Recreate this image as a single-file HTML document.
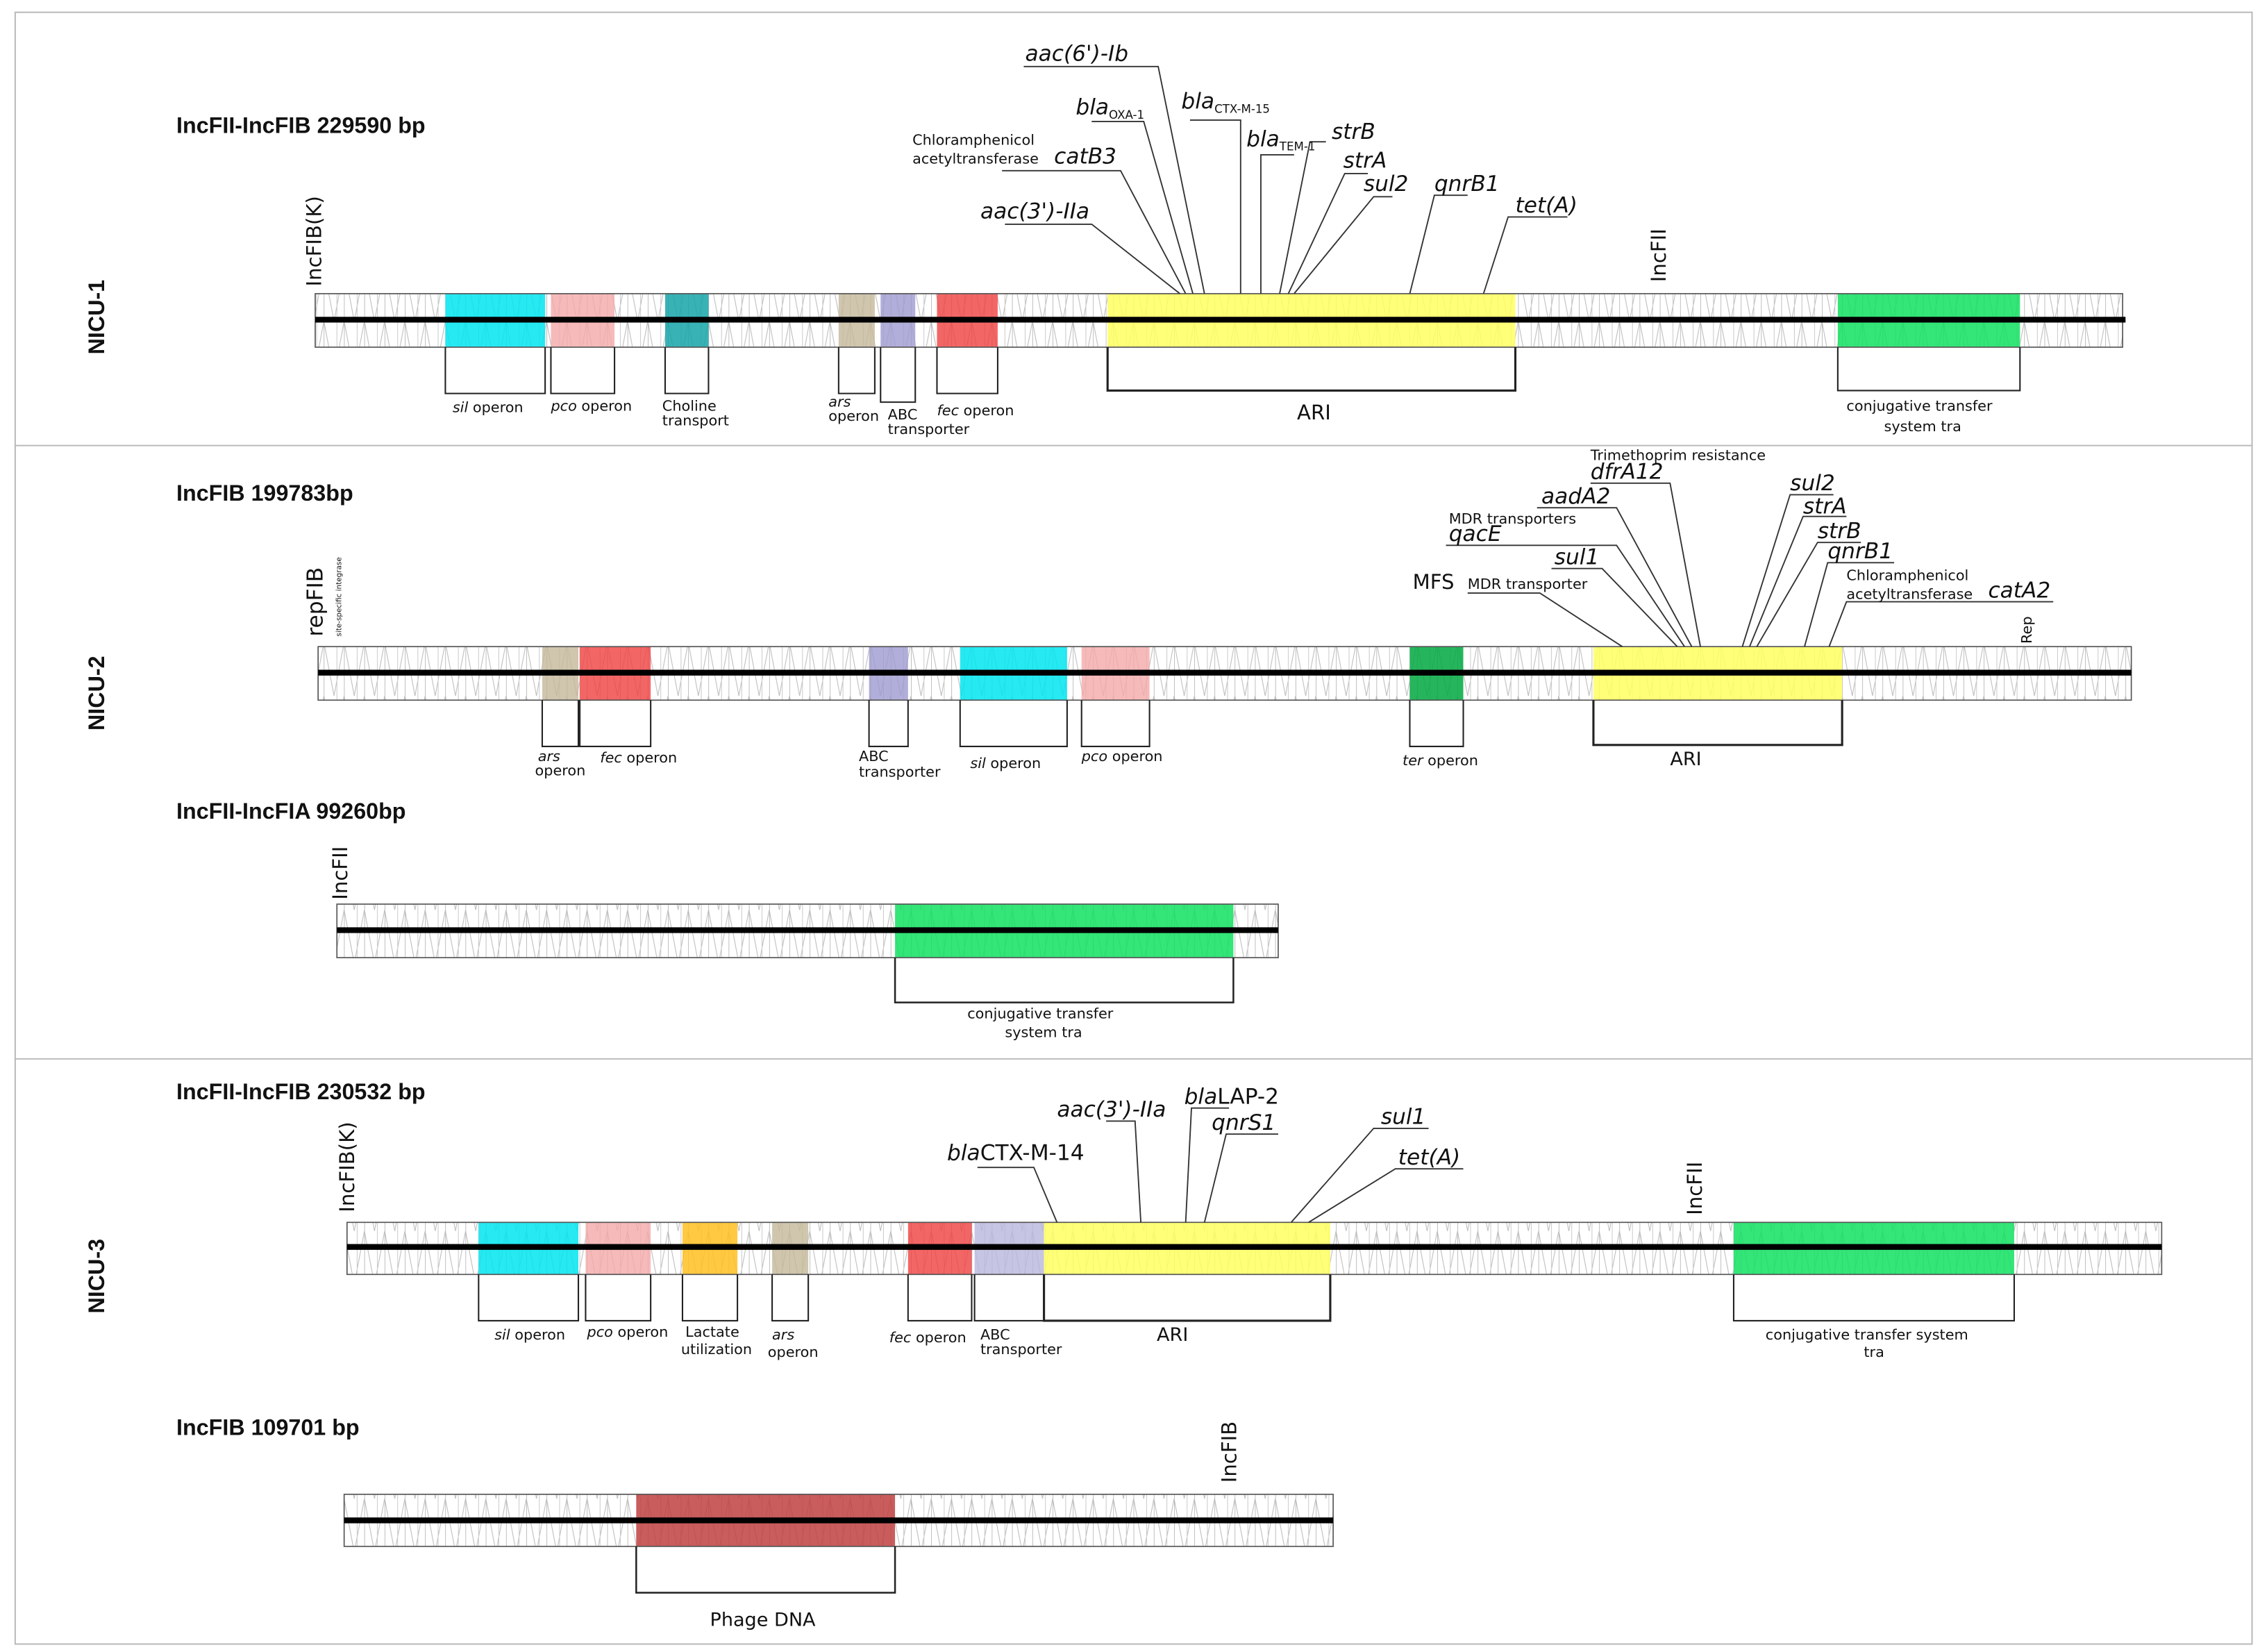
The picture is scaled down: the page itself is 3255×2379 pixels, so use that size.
<!DOCTYPE html>
<html><head><meta charset="utf-8"><style>
html,body{margin:0;padding:0;background:#fff;}
svg{display:block;}
text{font-family:"DejaVu Sans","Liberation Sans",sans-serif;fill:#111;}
.g{font-style:italic;font-size:15px;}
.s{font-size:10px;}
.b{font-weight:bold;font-family:"Liberation Sans",sans-serif;font-size:15.5px;}
</style></head><body>
<svg width="3255" height="2379" viewBox="0 0 1563 1142" preserveAspectRatio="none" xmlns="http://www.w3.org/2000/svg">
<defs>
<pattern id="h" width="14" height="37" patternUnits="userSpaceOnUse">
<line x1="0" y1="0" x2="0" y2="37" stroke="#999" stroke-width="0.6"/>
<line x1="0" y1="0" x2="7" y2="37" stroke="#bbb" stroke-width="0.5"/>
<line x1="14" y1="0" x2="7" y2="37" stroke="#bbb" stroke-width="0.5"/>
<line x1="9" y1="0" x2="9" y2="37" stroke="#ccc" stroke-width="0.5"/>
</pattern>
</defs>
<rect x="0" y="0" width="1563" height="1142" fill="#fff"/>
<rect x="10.5" y="8.5" width="1547" height="1128" fill="none" stroke="#bbb" stroke-width="1"/>
<line x1="10" y1="308" x2="1558" y2="308" stroke="#bbb"/>
<line x1="10" y1="732" x2="1558" y2="732" stroke="#bbb"/>

<text class="b" transform="translate(72,245) rotate(-90)" font-size="17">NICU-1</text>
<text class="b" transform="translate(72,505) rotate(-90)" font-size="17">NICU-2</text>
<text class="b" transform="translate(72,908) rotate(-90)" font-size="17">NICU-3</text>

<text class="b" x="122" y="92">IncFII-IncFIB  229590 bp</text>
<text class="b" x="122" y="346">IncFIB  199783bp</text>
<text class="b" x="122" y="566">IncFII-IncFIA 99260bp</text>
<text class="b" x="122" y="760">IncFII-IncFIB 230532 bp</text>
<text class="b" x="122" y="992">IncFIB 109701 bp</text>

<!-- Plasmid 1 -->
<g stroke="none">
<rect x="218" y="203" width="1250" height="37" fill="url(#h)"/>
<rect x="308" y="203" width="69" height="37" fill="#00e5f0" opacity="0.85"/>
<rect x="381" y="203" width="44" height="37" fill="#f4a9a9" opacity="0.8"/>
<rect x="460" y="203" width="30" height="37" fill="#15a5a8" opacity="0.85"/>
<rect x="580" y="203" width="25" height="37" fill="#c4b89a" opacity="0.8"/>
<rect x="609" y="203" width="24" height="37" fill="#9d9ad0" opacity="0.8"/>
<rect x="648" y="203" width="42" height="37" fill="#f04040" opacity="0.8"/>
<rect x="766" y="203" width="282" height="37" fill="#ffff60" opacity="0.85"/>
<rect x="1271" y="203" width="126" height="37" fill="#10e060" opacity="0.85"/>
</g>
<rect x="218" y="203" width="1250" height="37" fill="none" stroke="#555" stroke-width="0.8"/>
<line x1="218" y1="221" x2="1470" y2="221" stroke="#000" stroke-width="4"/>
<g fill="none" stroke="#222" stroke-width="1">
<polyline points="308,240 308,272 377,272 377,240"/>
<polyline points="381,240 381,272 425,272 425,240"/>
<polyline points="460,240 460,272 490,272 490,240"/>
<polyline points="580,240 580,272 605,272 605,240"/>
<polyline points="609,240 609,278 633,278 633,240"/>
<polyline points="648,240 648,272 690,272 690,240"/>
<polyline points="766,240 766,270 1048,270 1048,240" stroke-width="1.5"/>
<polyline points="1271,240 1271,270 1397,270 1397,240"/>
</g>
<text class="s" x="313" y="285"><tspan font-style="italic">sil</tspan> operon</text>
<text class="s" x="381" y="284"><tspan font-style="italic">pco</tspan> operon</text>
<text class="s" x="458" y="284">Choline</text><text class="s" x="458" y="294">transport</text>
<text class="s" x="573" y="281" font-style="italic">ars</text><text class="s" x="573" y="291">operon</text>
<text class="s" x="614" y="290">ABC</text><text class="s" x="614" y="300">transporter</text>
<text class="s" x="648" y="287"><tspan font-style="italic">fec</tspan> operon</text>
<text x="897" y="290" font-size="14">ARI</text>
<text class="s" x="1277" y="284">conjugative transfer</text><text class="s" x="1303" y="298">system tra</text>
<text font-size="14" transform="translate(222,198) rotate(-90)">IncFIB(K)</text>
<text font-size="14" transform="translate(1152,195) rotate(-90)">IncFII</text>

<g fill="none" stroke="#333" stroke-width="0.9">
<polyline points="708,46 801,46 833,203"/>
<polyline points="755,84 791,84 825,203"/>
<polyline points="823,83 858,83 858,203"/>
<polyline points="872,203 872,107 895,107"/>
<polyline points="917,98 906,98 885,203"/>
<polyline points="946,120 930,120 891,203"/>
<polyline points="963,136 950,136 895,203"/>
<polyline points="1015,135 992,135 975,203"/>
<polyline points="1084,150 1043,150 1026,203"/>
<polyline points="693,118 775,118 820,203"/>
<polyline points="695,155 755,155 816,203"/>
</g>
<text class="g" x="709" y="42">aac(6')-Ib</text>
<text class="g" x="744" y="79">bla<tspan font-size="8" font-style="normal" dy="3">OXA-1</tspan></text>
<text class="g" x="817" y="75">bla<tspan font-size="8" font-style="normal" dy="3">CTX-M-15</tspan></text>
<text class="g" x="862" y="101">bla<tspan font-size="8" font-style="normal" dy="3">TEM-1</tspan></text>
<text class="g" x="921" y="96">strB</text>
<text class="g" x="929" y="116">strA</text>
<text class="g" x="943" y="132">sul2</text>
<text class="g" x="992" y="132">qnrB1</text>
<text class="g" x="1048" y="147">tet(A)</text>
<text class="s" x="631" y="100">Chloramphenicol</text>
<text class="s" x="631" y="113">acetyltransferase</text>
<text class="g" x="729" y="113">catB3</text>
<text class="g" x="678" y="151">aac(3')-IIa</text>

<!-- Plasmid 2 -->
<rect x="220" y="447" width="1254" height="37" fill="url(#h)"/>
<rect x="375" y="447" width="25" height="37" fill="#c4b89a" opacity="0.8"/>
<rect x="401" y="447" width="49" height="37" fill="#f04040" opacity="0.8"/>
<rect x="601" y="447" width="27" height="37" fill="#9d9ad0" opacity="0.8"/>
<rect x="664" y="447" width="74" height="37" fill="#00e5f0" opacity="0.85"/>
<rect x="748" y="447" width="47" height="37" fill="#f4a9a9" opacity="0.8"/>
<rect x="975" y="447" width="37" height="37" fill="#00a840" opacity="0.85"/>
<rect x="1102" y="447" width="172" height="37" fill="#ffff60" opacity="0.85"/>
<rect x="220" y="447" width="1254" height="37" fill="none" stroke="#555" stroke-width="0.8"/>
<line x1="220" y1="465" x2="1474" y2="465" stroke="#000" stroke-width="4"/>
<g fill="none" stroke="#222" stroke-width="1">
<polyline points="375,484 375,516 400,516 400,484"/>
<polyline points="401,484 401,516 450,516 450,484"/>
<polyline points="601,484 601,516 628,516 628,484"/>
<polyline points="664,484 664,516 738,516 738,484"/>
<polyline points="748,484 748,516 795,516 795,484"/>
<polyline points="975,484 975,516 1012,516 1012,484"/>
<polyline points="1102,484 1102,515 1274,515 1274,484" stroke-width="1.5"/>
</g>
<text class="s" x="372" y="526" font-style="italic">ars</text><text class="s" x="370" y="536">operon</text>
<text class="s" x="415" y="527"><tspan font-style="italic">fec</tspan> operon</text>
<text class="s" x="594" y="526">ABC</text><text class="s" x="594" y="537">transporter</text>
<text class="s" x="671" y="531"><tspan font-style="italic">sil</tspan> operon</text>
<text class="s" x="748" y="526"><tspan font-style="italic">pco</tspan> operon</text>
<text class="s" x="970" y="529"><tspan font-style="italic">ter</tspan> operon</text>
<text x="1155" y="529" font-size="13">ARI</text>
<text font-size="15" transform="translate(223,440) rotate(-90)">repFIB</text>
<text font-size="5" fill="#555" transform="translate(236,440) rotate(-90)">site-specific integrase</text>
<text font-size="10" transform="translate(1405,445) rotate(-90)">Rep</text>
<g fill="none" stroke="#333" stroke-width="0.9">
<polyline points="1100,334 1155,334 1176,447"/>
<polyline points="1063,351 1118,351 1170,447"/>
<polyline points="1000,377 1118,377 1165,447"/>
<polyline points="1073,393 1108,393 1160,447"/>
<polyline points="1015,410 1065,410 1122,447"/>
<polyline points="1268,342 1238,342 1205,447"/>
<polyline points="1277,357 1247,357 1210,447"/>
<polyline points="1287,375 1257,375 1215,447"/>
<polyline points="1310,389 1264,389 1248,447"/>
<polyline points="1420,416 1277,416 1265,447"/>
</g>
<text class="s" x="1100" y="318">Trimethoprim resistance</text>
<text class="g" x="1100" y="331">dfrA12</text>
<text class="g" x="1066" y="348">aadA2</text>
<text class="s" x="1002" y="362">MDR transporters</text>
<text class="g" x="1002" y="374">qacE</text>
<text class="g" x="1075" y="390">sul1</text>
<text x="977" y="407" font-size="14">MFS</text>
<text class="s" x="1015" y="407">MDR transporter</text>
<text class="g" x="1238" y="339">sul2</text>
<text class="g" x="1247" y="355">strA</text>
<text class="g" x="1257" y="372">strB</text>
<text class="g" x="1264" y="386">qnrB1</text>
<text class="s" x="1277" y="401">Chloramphenicol</text>
<text class="s" x="1277" y="414">acetyltransferase</text>
<text class="g" x="1375" y="413">catA2</text>

<!-- Plasmid 3 -->
<rect x="233" y="625" width="651" height="37" fill="url(#h)"/>
<rect x="619" y="625" width="234" height="37" fill="#10e060" opacity="0.85"/>
<rect x="233" y="625" width="651" height="37" fill="none" stroke="#555" stroke-width="0.8"/>
<line x1="233" y1="643" x2="884" y2="643" stroke="#000" stroke-width="4"/>
<polyline points="619,662 619,693 853,693 853,662" fill="none" stroke="#222" stroke-width="1.2"/>
<text class="s" x="669" y="704">conjugative transfer</text><text class="s" x="695" y="717">system tra</text>
<text font-size="14" transform="translate(240,622) rotate(-90)">IncFII</text>

<!-- Plasmid 4 -->
<rect x="240" y="845" width="1255" height="36" fill="url(#h)"/>
<rect x="331" y="845" width="69" height="36" fill="#00e5f0" opacity="0.85"/>
<rect x="405" y="845" width="45" height="36" fill="#f4a9a9" opacity="0.8"/>
<rect x="472" y="845" width="38" height="36" fill="#ffc020" opacity="0.85"/>
<rect x="534" y="845" width="25" height="36" fill="#c4b89a" opacity="0.8"/>
<rect x="628" y="845" width="44" height="36" fill="#f04040" opacity="0.8"/>
<rect x="674" y="845" width="48" height="36" fill="#b8b6dc" opacity="0.8"/>
<rect x="722" y="845" width="198" height="36" fill="#ffff60" opacity="0.85"/>
<rect x="1199" y="845" width="194" height="36" fill="#10e060" opacity="0.85"/>
<rect x="240" y="845" width="1255" height="36" fill="none" stroke="#555" stroke-width="0.8"/>
<line x1="240" y1="862" x2="1495" y2="862" stroke="#000" stroke-width="4"/>
<g fill="none" stroke="#222" stroke-width="1">
<polyline points="331,881 331,913 400,913 400,881"/>
<polyline points="405,881 405,913 450,913 450,881"/>
<polyline points="472,881 472,913 510,913 510,881"/>
<polyline points="534,881 534,913 559,913 559,881"/>
<polyline points="628,881 628,913 672,913 672,881"/>
<polyline points="674,881 674,913 722,913"/>
<polyline points="722,881 722,913 920,913 920,881" stroke-width="1.5"/>
<polyline points="1199,881 1199,913 1393,913 1393,881"/>
</g>
<text class="s" x="342" y="926"><tspan font-style="italic">sil</tspan> operon</text>
<text class="s" x="406" y="924"><tspan font-style="italic">pco</tspan> operon</text>
<text class="s" x="474" y="924">Lactate</text><text class="s" x="471" y="936">utilization</text>
<text class="s" x="534" y="926" font-style="italic">ars</text><text class="s" x="531" y="938">operon</text>
<text class="s" x="615" y="928"><tspan font-style="italic">fec</tspan> operon</text>
<text class="s" x="678" y="926">ABC</text><text class="s" x="678" y="936">transporter</text>
<text x="800" y="927" font-size="13">ARI</text>
<text class="s" x="1221" y="926">conjugative transfer system</text><text class="s" x="1289" y="938">tra</text>
<text font-size="14" transform="translate(245,838) rotate(-90)">IncFIB(K)</text>
<text font-size="14" transform="translate(1177,840) rotate(-90)">IncFII</text>
<g fill="none" stroke="#333" stroke-width="0.9">
<polyline points="676,807 715,807 731,845"/>
<polyline points="765,775 785,775 789,845"/>
<polyline points="850,766 824,766 820,845"/>
<polyline points="884,784 848,784 833,845"/>
<polyline points="988,780 950,780 893,845"/>
<polyline points="1012,808 965,808 905,845"/>
</g>
<text class="g" x="655" y="802">bla<tspan font-style="normal">CTX-M-14</tspan></text>
<text class="g" x="731" y="772">aac(3')-IIa</text>
<text class="g" x="819" y="763">bla<tspan font-style="normal">LAP-2</tspan></text>
<text class="g" x="838" y="781">qnrS1</text>
<text class="g" x="955" y="777">sul1</text>
<text class="g" x="967" y="805">tet(A)</text>

<!-- Plasmid 5 -->
<rect x="238" y="1033" width="684" height="36" fill="url(#h)"/>
<rect x="440" y="1033" width="179" height="36" fill="#c04040" opacity="0.85"/>
<rect x="238" y="1033" width="684" height="36" fill="none" stroke="#555" stroke-width="0.8"/>
<line x1="238" y1="1051" x2="922" y2="1051" stroke="#000" stroke-width="4"/>
<polyline points="440,1069 440,1101 619,1101 619,1069" fill="none" stroke="#222" stroke-width="1.2"/>
<text x="491" y="1124" font-size="13">Phage DNA</text>
<text font-size="14" transform="translate(855,1025) rotate(-90)">IncFIB</text>
</svg>
</body></html>
